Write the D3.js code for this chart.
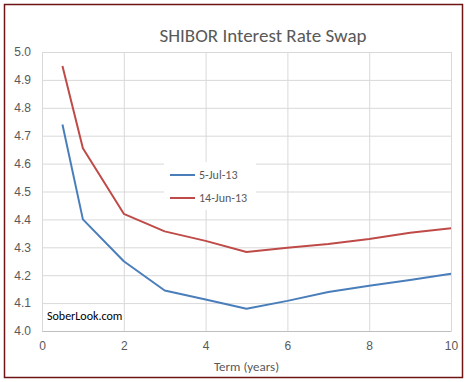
<!DOCTYPE html>
<html>
<head>
<meta charset="utf-8">
<script src="https://cdn.jsdelivr.net/npm/d3@7"></script>
<style>
body { margin: 0; background: #fff; font-family: Calibri, Carlito, Lato, 'Liberation Sans', Arial, sans-serif; }
.tick text { fill: #595959; font-size: 12px; }
</style>
</head>
<body>
<div id="chart"></div>
<script>
let terms = [0.5, 1, 2, 3, 4, 5, 6, 7, 8, 9, 10]
let jul5 = [4.74, 4.40, 4.25, 4.145, 4.113, 4.08, 4.108, 4.14, 4.162, 4.183, 4.205]
let jun14 = [4.95, 4.655, 4.42, 4.357, 4.323, 4.283, 4.298, 4.312, 4.33, 4.352, 4.368]
let seriesNames = ['5-Jul-13', '14-Jun-13']
let seriesColors = ['#4a7ebb', '#be4b48']
let xTicks = [0, 2, 4, 6, 8, 10]
let yTicks = [4.0, 4.1, 4.2, 4.3, 4.4, 4.5, 4.6, 4.7, 4.8, 4.9, 5.0]

let W = 467, H = 382
let margin = { left: 42, right: 16, top: 52, bottom: 51 }

let svg = d3.select('#chart')
.append('svg')
.attr('width', W)
.attr('height', H)

svg.append('rect')
.attr('x', 4.5).attr('y', 4.5)
.attr('width', W - 9).attr('height', H - 9)
.attr('fill', '#fff')
.attr('stroke', '#6e1414')
.attr('stroke-width', 1.5)

let x = d3.scaleLinear().domain([0, 10]).range([margin.left, W - margin.right])
let y = d3.scaleLinear().domain([4.0, 5.0]).range([H - margin.bottom, margin.top])

// grid
svg.append('g')
.selectAll('line.h')
.data(yTicks)
.join('line')
.attr('x1', x(0)).attr('x2', x(10))
.attr('y1', d => y(d) + 0.5).attr('y2', d => y(d) + 0.5)
.attr('stroke', '#d9d9d9')

svg.append('g')
.selectAll('line.v')
.data(xTicks)
.join('line')
.attr('x1', d => x(d) + 0.5).attr('x2', d => x(d) + 0.5)
.attr('y1', y(5)).attr('y2', y(4))
.attr('stroke', '#d9d9d9')

// axes
let yAxis = svg.append('g')
.attr('transform', `translate(${x(0)},0)`)
.call(d3.axisLeft(y).tickValues(yTicks).tickFormat(d3.format('.1f')).tickSize(0).tickPadding(11))
yAxis.select('.domain').remove()

let xAxis = svg.append('g')
.attr('transform', `translate(0,${y(4)})`)
.call(d3.axisBottom(x).tickValues(xTicks).tickSize(0).tickPadding(10))
xAxis.select('.domain').attr('stroke', '#bfbfbf')

// title & axis label
svg.append('text')
.attr('x', 263).attr('y', 42)
.attr('text-anchor', 'middle')
.attr('fill', '#595959')
.attr('font-size', 19)
.text('SHIBOR Interest Rate Swap')

svg.append('text')
.attr('x', x(5)).attr('y', 371)
.attr('text-anchor', 'middle')
.attr('fill', '#595959')
.attr('font-size', 13)
.text('Term (years)')

// lines
let line = d3.line()
.x(d => x(d[0]))
.y(d => y(d[1]))

let series = [jul5, jun14]
series.forEach((vals, i) => {
	svg.append('path')
	.datum(terms.map((t, j) => [t, vals[j]]))
	.attr('d', line)
	.attr('fill', 'none')
	.attr('stroke', seriesColors[i])
	.attr('stroke-width', 2)
	.attr('stroke-linejoin', 'round')
})

// legend
let legend = svg.append('g').attr('transform', 'translate(164,162)')
legend.append('rect')
.attr('width', 92).attr('height', 48)
.attr('fill', '#fff')
seriesNames.forEach((name, i) => {
	legend.append('line')
	.attr('x1', 6).attr('x2', 31)
	.attr('y1', 13 + i * 23).attr('y2', 13 + i * 23)
	.attr('stroke', seriesColors[i])
	.attr('stroke-width', 2)
	legend.append('text')
	.attr('x', 35).attr('y', 17 + i * 23)
	.attr('fill', '#595959')
	.attr('font-size', 12)
	.text(name)
})

svg.append('text')
.attr('x', 47).attr('y', 320)
.attr('fill', '#000')
.attr('font-size', 12)
.text('SoberLook.com')
</script>
</body>
</html>
